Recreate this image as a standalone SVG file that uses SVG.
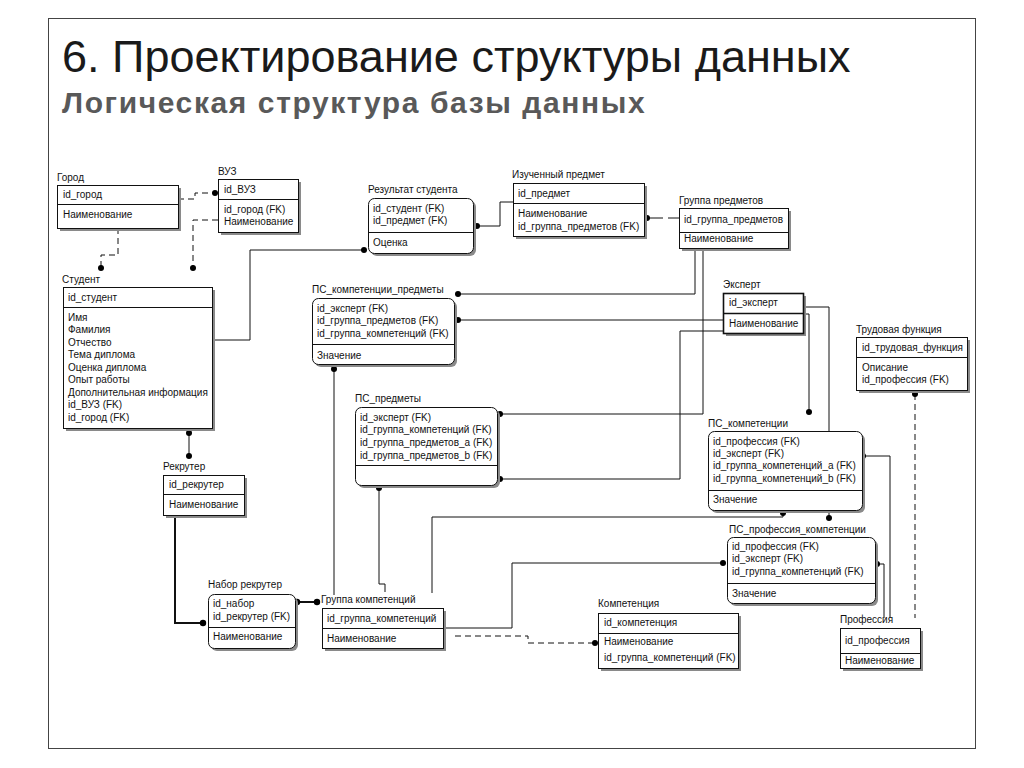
<svg xmlns="http://www.w3.org/2000/svg" width="1024" height="768" viewBox="0 0 1024 768">
<style>
text{font-family:"Liberation Sans",Arial,sans-serif;fill:#111}
.t{font-size:10px}
.lbl{font-size:10px}
.box{fill:#fff;stroke:#111;stroke-width:1}
.sh{fill:#8a8a8a}
.dv{stroke:#111;stroke-width:1}
.c{fill:none;stroke:#111;stroke-width:1}
.b{fill:none;stroke:#111;stroke-width:2}
.d{fill:none;stroke:#111;stroke-width:1;stroke-dasharray:6 4}
.dot{fill:#000}
</style>
<rect x="48.5" y="18.5" width="927" height="730" fill="#fff" stroke="#444" stroke-width="1"/>
<text x="62" y="72" style="font-size:45px;fill:#1a1a1a">6. Проектирование структуры данных</text>
<text x="62" y="113" style="font-size:30px;font-weight:bold;fill:#595959;letter-spacing:1.6px">Логическая структура базы данных</text>

<g id="connectors">
<polyline class="d" points="178,199 195,199 195,193 215,193"/>
<circle class="dot" cx="215" cy="193" r="3"/>
<polyline class="d" points="218,220 193,220 193,268"/>
<circle class="dot" cx="193" cy="268" r="3"/>
<polyline class="d" points="118,228 118,255 101,255 101,268"/>
<circle class="dot" cx="101" cy="268" r="3"/>
<polyline class="c" points="212,340 250,340 250,250 364,250"/>
<circle class="dot" cx="364" cy="250" r="3"/>
<polyline class="c" points="477,226 500,226 500,202 513,202"/>
<circle class="dot" cx="477" cy="226" r="3"/>
<line class="c" x1="647" y1="218" x2="663" y2="218"/>
<line class="c" x1="668" y1="218" x2="679" y2="218"/>
<circle class="dot" cx="647" cy="218" r="3"/>
<polyline class="c" points="695,248 695,294 458,294"/>
<circle class="dot" cx="458" cy="294" r="3"/>
<polyline class="c" points="703,248 703,414 500,414"/>
<circle class="dot" cx="500" cy="414" r="3"/>
<line class="c" x1="458" y1="320" x2="723" y2="320"/>
<circle class="dot" cx="458" cy="320" r="3"/>
<polyline class="c" points="723,331 680,331 680,479 500,479"/>
<circle class="dot" cx="500" cy="479" r="3"/>
<polyline class="c" points="803,307 829,307 829,518"/>
<circle class="dot" cx="829" cy="518" r="3"/>
<polyline class="c" points="803,314 809,314 809,412"/>
<circle class="dot" cx="809" cy="412" r="3"/>
<polyline class="c" points="863,456 890,456 890,618"/>
<circle class="dot" cx="863" cy="456" r="3"/>
<polyline class="c" points="877,564 884,564 884,618"/>
<circle class="dot" cx="877" cy="564" r="3"/>
<line class="d" x1="915" y1="394" x2="915" y2="618"/>
<circle class="dot" cx="915" cy="394" r="3"/>
<polyline class="c" points="723,563 512,563 512,628 443,628"/>
<circle class="dot" cx="723" cy="563" r="3"/>
<polyline class="d" points="455,636 528,636 528,643 594,643"/>
<circle class="dot" cx="595" cy="643" r="3"/>
<polyline class="c" points="783,513 783,517 432,517 432,593"/>
<circle class="dot" cx="783" cy="513" r="3"/>
<line class="c" x1="334" y1="369" x2="334" y2="595"/>
<circle class="dot" cx="334" cy="369" r="3"/>
<polyline class="c" points="379,488 379,584 385,584 385,592"/>
<circle class="dot" cx="379" cy="488" r="3"/>
<line class="c" x1="189" y1="433" x2="189" y2="456"/>
<circle class="dot" cx="189" cy="433" r="3"/>
<circle class="dot" cx="189" cy="456" r="3"/>
<polyline class="b" points="175,515 175,623 203,623"/>
<circle class="dot" cx="203" cy="623" r="3.2"/>
<line class="b" x1="297" y1="602" x2="317" y2="602"/>
<circle class="dot" cx="297" cy="602" r="3.2"/>
<circle class="dot" cx="317" cy="602" r="3.2"/>
</g>

<g id="gorod">
<rect class="sh" x="60" y="188" width="121" height="43"/>
<rect class="box" x="57.5" y="185.5" width="121" height="43"/>
<line class="dv" x1="57.5" y1="204.5" x2="178.5" y2="204.5"/>
<text class="lbl" x="57" y="181">Город</text>
<text class="t" x="63" y="198">id_город</text>
<text class="t" x="63" y="218">Наименование</text>
</g>

<g id="vuz">
<rect class="sh" x="221" y="182" width="80" height="53"/>
<rect class="box" x="218.5" y="179.5" width="80" height="53"/>
<line class="dv" x1="218.5" y1="199.5" x2="298.5" y2="199.5"/>
<text class="lbl" x="218" y="175">ВУЗ</text>
<text class="t" x="224" y="193">id_ВУЗ</text>
<text class="t" x="224" y="213">id_город (FK)</text>
<text class="t" x="224" y="225">Наименование</text>
</g>

<g id="student">
<rect class="sh" x="66" y="290" width="149" height="141"/>
<rect class="box" x="63.5" y="287.5" width="149" height="141"/>
<line class="dv" x1="63.5" y1="307.5" x2="212.5" y2="307.5"/>
<text class="lbl" x="62" y="283">Студент</text>
<text class="t" x="68" y="301">id_студент</text>
<text class="t" x="68" y="321">Имя</text>
<text class="t" x="68" y="333">Фамилия</text>
<text class="t" x="68" y="346">Отчество</text>
<text class="t" x="68" y="358">Тема диплома</text>
<text class="t" x="68" y="371">Оценка диплома</text>
<text class="t" x="68" y="383">Опыт работы</text>
<text class="t" x="68" y="396">Дополнительная информация</text>
<text class="t" x="68" y="408">id_ВУЗ (FK)</text>
<text class="t" x="68" y="421">id_город (FK)</text>
</g>

<g id="rezultat">
<rect class="sh" x="371" y="201" width="105" height="55" rx="6"/>
<rect class="box" x="368.5" y="198.5" width="105" height="55" rx="6"/>
<line class="dv" x1="368.5" y1="232.5" x2="473.5" y2="232.5"/>
<text class="lbl" x="368" y="193">Результат студента</text>
<text class="t" x="373" y="212">id_студент (FK)</text>
<text class="t" x="373" y="224">id_предмет (FK)</text>
<text class="t" x="373" y="246">Оценка</text>
</g>

<g id="predmet">
<rect class="sh" x="516" y="186" width="131" height="53"/>
<rect class="box" x="513.5" y="183.5" width="131" height="53"/>
<line class="dv" x1="513.5" y1="203.5" x2="644.5" y2="203.5"/>
<text class="lbl" x="512" y="178">Изученный предмет</text>
<text class="t" x="518" y="197">id_предмет</text>
<text class="t" x="518" y="217">Наименование</text>
<text class="t" x="518" y="230">id_группа_предметов (FK)</text>
</g>

<g id="gruppa_predmetov">
<rect class="sh" x="682" y="211" width="109" height="40"/>
<rect class="box" x="679.5" y="208.5" width="109" height="40"/>
<line class="dv" x1="679.5" y1="232.5" x2="788.5" y2="232.5"/>
<text class="lbl" x="679" y="204">Группа предметов</text>
<text class="t" x="684" y="223">id_группа_предметов</text>
<text class="t" x="684" y="242">Наименование</text>
</g>

<g id="ps_komp_predm">
<rect class="sh" x="315" y="301" width="142" height="66" rx="6"/>
<rect class="box" x="312.5" y="298.5" width="142" height="66" rx="6"/>
<line class="dv" x1="312.5" y1="344.5" x2="454.5" y2="344.5"/>
<text class="lbl" x="312" y="293">ПС_компетенции_предметы</text>
<text class="t" x="317" y="312">id_эксперт (FK)</text>
<text class="t" x="317" y="324">id_группа_предметов (FK)</text>
<text class="t" x="317" y="337">id_группа_компетенций (FK)</text>
<text class="t" x="317" y="359">Значение</text>
</g>

<g id="ekspert">
<rect class="sh" x="726" y="296" width="80" height="40"/>
<rect class="box" x="723.5" y="293.5" width="80" height="40" style="stroke-width:1.6"/>
<line class="dv" x1="723.5" y1="313.5" x2="803.5" y2="313.5" style="stroke-width:1.6"/>
<text class="lbl" x="723" y="288">Эксперт</text>
<text class="t" x="729" y="306">id_эксперт</text>
<text class="t" x="729" y="327">Наименование</text>
</g>

<g id="trud_funkciya">
<rect class="sh" x="859" y="340" width="111" height="53"/>
<rect class="box" x="856.5" y="337.5" width="111" height="53"/>
<line class="dv" x1="856.5" y1="357.5" x2="967.5" y2="357.5"/>
<text class="lbl" x="856" y="333">Трудовая функция</text>
<text class="t" x="862" y="351">id_трудовая_функция</text>
<text class="t" x="862" y="371">Описание</text>
<text class="t" x="862" y="383">id_профессия (FK)</text>
</g>

<g id="ps_predmety">
<rect class="sh" x="358" y="410" width="142" height="78" rx="6"/>
<rect class="box" x="355.5" y="407.5" width="142" height="78" rx="6"/>
<line class="dv" x1="355.5" y1="465.5" x2="497.5" y2="465.5"/>
<text class="lbl" x="355" y="402">ПС_предметы</text>
<text class="t" x="360" y="421">id_эксперт (FK)</text>
<text class="t" x="360" y="433">id_группа_компетенций (FK)</text>
<text class="t" x="360" y="446">id_группа_предметов_a (FK)</text>
<text class="t" x="360" y="459">id_группа_предметов_b (FK)</text>
</g>

<g id="ps_kompetencii">
<rect class="sh" x="711" y="434" width="154" height="79" rx="6"/>
<rect class="box" x="708.5" y="431.5" width="154" height="79" rx="6"/>
<line class="dv" x1="708.5" y1="490.5" x2="862.5" y2="490.5"/>
<text class="lbl" x="708" y="427">ПС_компетенции</text>
<text class="t" x="713" y="445">id_профессия (FK)</text>
<text class="t" x="713" y="457">id_эксперт (FK)</text>
<text class="t" x="713" y="469">id_группа_компетенций_a (FK)</text>
<text class="t" x="713" y="482">id_группа_компетенций_b (FK)</text>
<text class="t" x="713" y="503">Значение</text>
</g>

<g id="rekruter">
<rect class="sh" x="166" y="478" width="81" height="40"/>
<rect class="box" x="163.5" y="475.5" width="81" height="40"/>
<line class="dv" x1="163.5" y1="494.5" x2="244.5" y2="494.5"/>
<text class="lbl" x="163" y="470">Рекрутер</text>
<text class="t" x="169" y="488">id_рекрутер</text>
<text class="t" x="169" y="508">Наименование</text>
</g>

<g id="nabor_rekruter">
<rect class="sh" x="211" y="597" width="87" height="54" rx="6"/>
<rect class="box" x="208.5" y="594.5" width="87" height="54" rx="6"/>
<line class="dv" x1="208.5" y1="627.5" x2="295.5" y2="627.5"/>
<text class="lbl" x="208" y="588">Набор рекрутер</text>
<text class="t" x="213" y="607">id_набор</text>
<text class="t" x="213" y="620">id_рекрутер (FK)</text>
<text class="t" x="213" y="640">Наименование</text>
</g>

<g id="gruppa_kompetencij">
<rect class="sh" x="325" y="611" width="121" height="40"/>
<rect class="box" x="322.5" y="608.5" width="121" height="40"/>
<line class="dv" x1="322.5" y1="628.5" x2="443.5" y2="628.5"/>
<text class="lbl" x="321" y="603">Группа компетенций</text>
<text class="t" x="327" y="622">id_группа_компетенций</text>
<text class="t" x="327" y="642">Наименование</text>
</g>

<g id="ps_prof_komp">
<rect class="sh" x="730" y="540" width="148" height="66" rx="6"/>
<rect class="box" x="727.5" y="537.5" width="148" height="66" rx="6"/>
<line class="dv" x1="727.5" y1="583.5" x2="875.5" y2="583.5"/>
<text class="lbl" x="729" y="533">ПС_профессия_компетенции</text>
<text class="t" x="732" y="550">id_профессия (FK)</text>
<text class="t" x="732" y="562">id_эксперт (FK)</text>
<text class="t" x="732" y="575">id_группа_компетенций (FK)</text>
<text class="t" x="732" y="597">Значение</text>
</g>

<g id="kompetenciya">
<rect class="sh" x="601" y="616" width="140" height="55"/>
<rect class="box" x="598.5" y="613.5" width="140" height="55"/>
<line class="dv" x1="598.5" y1="633.5" x2="738.5" y2="633.5"/>
<text class="lbl" x="598" y="607">Компетенция</text>
<text class="t" x="604" y="626">id_компетенция</text>
<text class="t" x="604" y="645">Наименование</text>
<text class="t" x="604" y="661">id_группа_компетенций (FK)</text>
</g>

<g id="professiya">
<rect class="sh" x="843" y="631" width="80" height="40"/>
<rect class="box" x="840.5" y="628.5" width="80" height="40"/>
<line class="dv" x1="840.5" y1="653.5" x2="920.5" y2="653.5"/>
<text class="lbl" x="840" y="623">Профессия</text>
<text class="t" x="845" y="644">id_профессия</text>
<text class="t" x="845" y="664">Наименование</text>
</g>
</svg>
